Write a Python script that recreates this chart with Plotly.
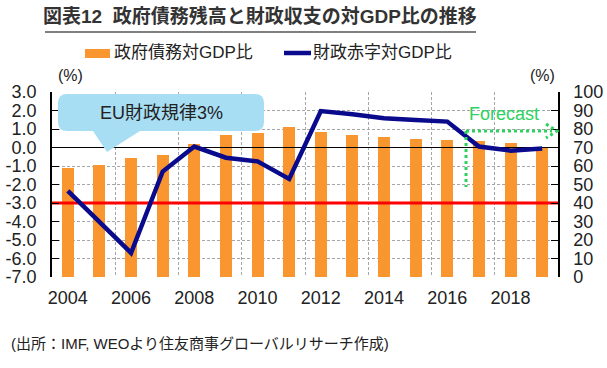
import plotly.graph_objects as go

# ---------------- data ----------------
years = list(range(2004, 2020))
debt_gdp = [58.8, 60.5, 64.5, 65.8, 71.7, 77.0, 78.0, 81.1, 78.6, 76.8, 75.9, 74.6, 74.1, 73.5, 72.3, 70.4]
deficit_gdp = [-2.35, -4.0, -5.7, -1.3, 0.05, -0.55, -0.75, -1.7, 1.97, 1.8, 1.58, 1.48, 1.4, 0.05, -0.17, -0.05]
eu_limit = -3.0

left_tickvals = [3, 2, 1, 0, -1, -2, -3, -4, -5, -6, -7]
left_ticktext = ["3.0", "2.0", "1.0", "0.0", "-1.0", "-2.0", "-3.0", "-4.0", "-5.0", "-6.0", "-7.0"]
right_tickvals = list(range(0, 101, 10))
x_tickvals = [2004, 2006, 2008, 2010, 2012, 2014, 2016, 2018]
x_ticktext = [str(v) for v in x_tickvals]

title_text = "<b>図表12\u00a0\u00a0政府債務残高と財政収支の対GDP比の推移</b>"
legend_debt = "政府債務対GDP比"
legend_deficit = "財政赤字対GDP比"
callout_text = "EU財政規律3%"
forecast_text = "Forecast"
source_text = "(出所：IMF, WEOより住友商事グローバルリサーチ作成)"

# ---------------- layout geometry ----------------
W, H = 607, 368
PL, PR, PT, PB = 52, 558, 92, 277  # plot area in px
FONT = "Liberation Sans, Arial, Noto Sans CJK JP, sans-serif"
ORANGE = "#F9962F"
NAVY = "#0A0A8C"
GREEN = "#2ED15F"
GRID = "#A6A6A6"
X_LO, X_HI = years[0] - 0.5, years[-1] + 0.5


def px(x, y):
    return (x - PL) / (PR - PL), (PB - y) / (PB - PT)


def pstr(x, y):
    a, b = px(x, y)
    return f"{a:.5f},{b:.5f}"


fig = go.Figure()

# bars (debt, right axis = primary y)
fig.add_trace(go.Bar(x=years, y=debt_gdp, yaxis="y", marker=dict(color=ORANGE, line=dict(width=0)),
                     width=0.38, name=legend_debt, showlegend=False))
# zero line (category axis crossing)
fig.add_trace(go.Scatter(x=[X_LO, X_HI], y=[0, 0], yaxis="y2", mode="lines",
                         line=dict(color="#000000", width=1), showlegend=False, hoverinfo="skip"))
# EU limit
fig.add_trace(go.Scatter(x=[X_LO, X_HI], y=[eu_limit, eu_limit], yaxis="y2", mode="lines",
                         line=dict(color="#FF0000", width=3), showlegend=False, hoverinfo="skip"))
# deficit line
fig.add_trace(go.Scatter(x=years, y=deficit_gdp, yaxis="y2", mode="lines",
                         line=dict(color=NAVY, width=4.5), name=legend_deficit, showlegend=False))

grid_vals = [y + 0.5 for y in years[1::2]]

fig.update_layout(
    width=W, height=H,
    margin=dict(l=PL, r=W - PR, t=PT, b=H - PB, autoexpand=False),
    paper_bgcolor="white", plot_bgcolor="white",
    font=dict(family=FONT, size=18, color="#222222"),
    showlegend=False,
    bargap=0,
    xaxis=dict(range=[X_LO, X_HI], tickmode="array", tickvals=x_tickvals, ticktext=x_ticktext,
               showgrid=False, zeroline=False, showline=False, ticks="",
               ticklabelstandoff=8, automargin=False,
               minor=dict(tickmode="array", tickvals=grid_vals, showgrid=True, gridcolor=GRID,
                          griddash="3px,2px", gridwidth=1, ticks="")),
    yaxis=dict(range=[0, 100], side="right", tickmode="array", tickvals=right_tickvals,
               showgrid=True, gridcolor=GRID, griddash="3px,2px", gridwidth=1,
               zeroline=False, showline=True, linecolor="#000000", linewidth=1.5,
               ticks="inside", ticklen=7, tickcolor="#000000", ticklabelstandoff=10,
               automargin=False),
    yaxis2=dict(range=[-7, 3], side="left", overlaying="y", tickmode="array",
                tickvals=left_tickvals, ticktext=left_ticktext,
                showgrid=False, zeroline=False, showline=True, linecolor="#000000", linewidth=1.5,
                ticks="inside", ticklen=7, tickcolor="#000000", ticklabelstandoff=10,
                automargin=False),
)

shapes = []
annotations = []

# title + underline
tx, ty = px(260, 16)
annotations.append(dict(text=title_text, x=tx, y=ty, xref="paper", yref="paper", showarrow=False,
                        xanchor="center", yanchor="middle", font=dict(size=19, color="#333333")))
a0 = px(45, 32); a1 = px(476, 32)
shapes.append(dict(type="line", xref="paper", yref="paper", x0=a0[0], y0=a0[1], x1=a1[0], y1=a1[1],
                   line=dict(color="#555555", width=1.5)))

# manual legend
r0 = px(85, 49); r1 = px(110, 58)
shapes.append(dict(type="rect", xref="paper", yref="paper", x0=r0[0], y0=r0[1], x1=r1[0], y1=r1[1],
                   fillcolor=ORANGE, line=dict(width=0)))
lx, ly = px(112, 53)
annotations.append(dict(text=legend_debt, x=lx, y=ly, xref="paper", yref="paper", showarrow=False,
                        xanchor="left", yanchor="middle", font=dict(size=17, color="#222222")))
l0 = px(284, 53); l1 = px(311, 53)
shapes.append(dict(type="line", xref="paper", yref="paper", x0=l0[0], y0=l0[1], x1=l1[0], y1=l1[1],
                   line=dict(color=NAVY, width=4.5)))
lx, ly = px(311, 53)
annotations.append(dict(text=legend_deficit, x=lx, y=ly, xref="paper", yref="paper", showarrow=False,
                        xanchor="left", yanchor="middle", font=dict(size=17, color="#222222")))

# (%) unit labels
for cx in (70, 542):
    ux, uy = px(cx, 75)
    annotations.append(dict(text="(%)", x=ux, y=uy, xref="paper", yref="paper", showarrow=False,
                            xanchor="center", yanchor="middle", font=dict(size=16, color="#222222")))

# callout bubble
x0, x1, y0, y1, r = 58, 264, 94, 131, 9
path = (f"M{pstr(x0 + r, y0)} L{pstr(x1 - r, y0)} Q{pstr(x1, y0)} {pstr(x1, y0 + r)} "
        f"L{pstr(x1, y1 - r)} Q{pstr(x1, y1)} {pstr(x1 - r, y1)} L{pstr(140, y1)} L{pstr(107, 152)} "
        f"L{pstr(93, y1)} L{pstr(x0 + r, y1)} Q{pstr(x0, y1)} {pstr(x0, y1 - r)} "
        f"L{pstr(x0, y0 + r)} Q{pstr(x0, y0)} {pstr(x0 + r, y0)} Z")
shapes.append(dict(type="path", xref="paper", yref="paper", path=path, fillcolor="#A8DEF4",
                   line=dict(width=0), layer="above"))
cx, cy = px(161, 113)
annotations.append(dict(text=callout_text, x=cx, y=cy, xref="paper", yref="paper", showarrow=False,
                        xanchor="center", yanchor="middle", font=dict(size=18, color="#222222")))

# forecast marker
h0 = px(466, 131); h1 = px(552, 131); v1 = px(466, 187)
dot = dict(color=GREEN, width=3, dash="dot")
shapes.append(dict(type="line", xref="paper", yref="paper", x0=h0[0], y0=h0[1], x1=h1[0], y1=h1[1], line=dot))
shapes.append(dict(type="line", xref="paper", yref="paper", x0=h0[0], y0=h0[1], x1=v1[0], y1=v1[1], line=dot))
shapes.append(dict(type="path", xref="paper", yref="paper",
                   path=f"M{pstr(546, 124)} L{pstr(557, 131)} L{pstr(546, 138)}",
                   line=dict(color=GREEN, width=3, dash="dot")))
fx, fy = px(467, 114)
annotations.append(dict(text=forecast_text, x=fx, y=fy, xref="paper", yref="paper", showarrow=False,
                        xanchor="left", yanchor="middle", font=dict(size=18, color=GREEN)))

# source
sx, sy = px(9, 343)
annotations.append(dict(text=source_text, x=sx, y=sy, xref="paper", yref="paper", showarrow=False,
                        xanchor="left", yanchor="middle", font=dict(size=15, color="#222222")))

fig.update_layout(shapes=shapes, annotations=annotations)
fig.write_html("out.html", config={"displayModeBar": False},
               post_script="document.body.style.margin='0px';document.body.style.overflow='hidden';")
